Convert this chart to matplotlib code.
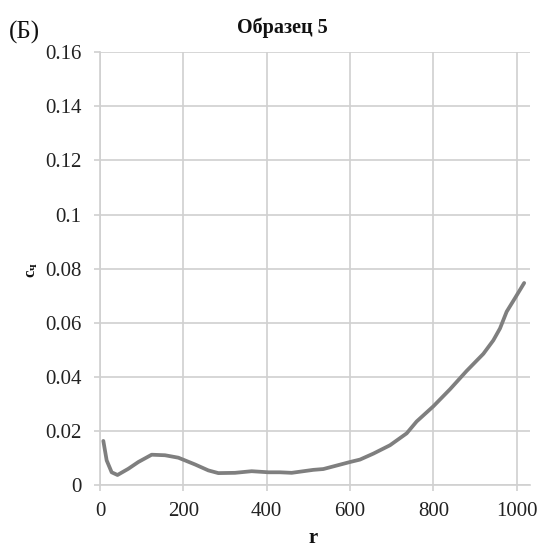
import matplotlib
matplotlib.use("Agg")
import matplotlib.pyplot as plt

r_vals = [8, 16, 28, 42, 68, 92, 124, 156, 188, 228, 260, 284, 324, 364, 404, 432, 460,
          512, 536, 568, 600, 624, 656, 696, 736, 760, 800, 840, 880, 920, 944, 960, 976, 996, 1018]
c_vals = [0.0163, 0.0091, 0.0047, 0.0037, 0.0060, 0.0085, 0.0112, 0.0110, 0.0101, 0.0076,
          0.0054, 0.0044, 0.0045, 0.0051, 0.0047, 0.0047, 0.0045,
          0.0056, 0.0059, 0.0072, 0.0085, 0.0094, 0.0116, 0.0147, 0.0191, 0.0235, 0.0291,
          0.0354, 0.0422, 0.0485, 0.0535, 0.0579, 0.0641, 0.0691, 0.0747]
x_ticks = [0, 200, 400, 600, 800, 1000]
y_ticks = [0, 0.02, 0.04, 0.06, 0.08, 0.1, 0.12, 0.14, 0.16]
y_labels = ["0", "0.02", "0.04", "0.06", "0.08", "0.1", "0.12", "0.14", "0.16"]

plt.rcParams['font.family'] = ['Liberation Serif', 'DejaVu Serif']
plt.rcParams['mathtext.fontset'] = 'custom'
plt.rcParams['mathtext.rm'] = 'Liberation Serif'
plt.rcParams['mathtext.bf'] = 'Liberation Serif:bold'
plt.rcParams['mathtext.it'] = 'Liberation Serif:italic'

W, H = 544, 548
fig = plt.figure(figsize=(W / 100, H / 100), dpi=100)
ax = fig.add_axes([100 / W, 1 - 485 / H, 430 / W, (485 - 52.3) / H])

grid_c = '#d0d0d0'
ax.plot(r_vals, c_vals, color='#7f7f7f', lw=2.7, solid_capstyle='round',
        solid_joinstyle='round', zorder=3)
ax.set_xlim(0, 1032)
ax.set_ylim(0, 0.16)
ax.set_xticks(x_ticks)
ax.set_yticks(y_ticks)
ax.set_yticklabels(y_labels)
ax.grid(True, color=grid_c, lw=1.2)
for s in ['top', 'right']:
    ax.spines[s].set_visible(False)
for s in ['left', 'bottom']:
    ax.spines[s].set_color(grid_c)
    ax.spines[s].set_linewidth(1.2)
ax.tick_params(axis='both', colors=grid_c, length=4.5, width=1.2, labelsize=15,
               labelcolor='#222222')
ax.tick_params(axis='y', pad=9)
ax.tick_params(axis='x', pad=8)

fig.text(282 / W, 1 - 28 / H, 'Образец 5', ha='center', va='center',
         fontsize=14.5, fontweight='bold', color='#111111')
fig.text(9 / W, 1 - 32 / H, '(Б)', ha='left', va='center', fontsize=18, color='#111111')
fig.text(313 / W, 1 - 538 / H, 'r', ha='center', va='center', fontsize=15,
         fontweight='bold', color='#111111')
fig.text(32 / W, 1 - 270 / H, r'$\mathbf{c_{ч}}$', ha='center', va='center', rotation=90,
         fontsize=12, color='#111111')

fig.savefig('out.png', dpi=100)
